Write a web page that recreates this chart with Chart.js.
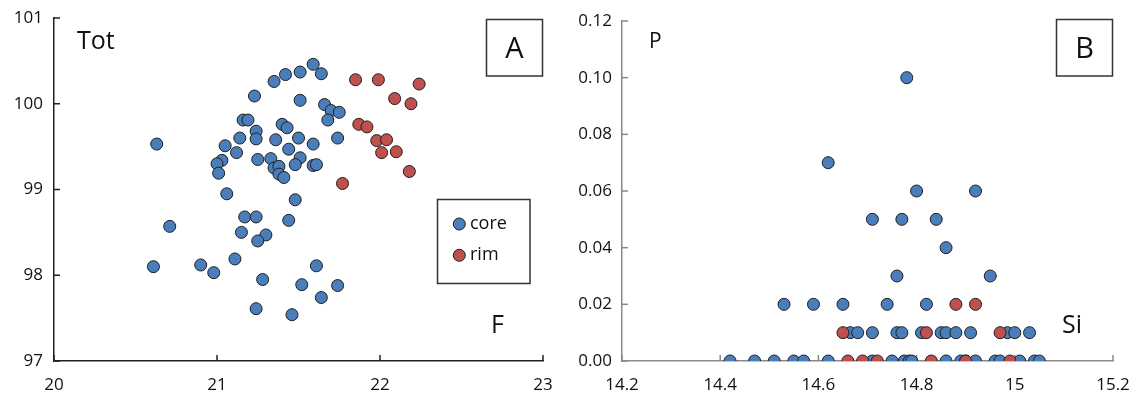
<!DOCTYPE html>
<html><head><meta charset="utf-8">
<script src="https://cdn.jsdelivr.net/npm/chart.js@4/dist/chart.umd.min.js"></script>
<style>
html,body{margin:0;padding:0;background:#fff;}
#wrap{position:relative;width:1144px;height:405px;overflow:hidden;}
#a{position:absolute;left:0;top:0;}
#b{position:absolute;left:560px;top:0;}
</style></head><body>
<div id="wrap"><canvas id="a" width="560" height="405"></canvas><canvas id="b" width="584" height="405"></canvas></div>
<script>
// ---- Panel A: Tot vs F ----
const coreF = [20.63,20.61,20.71,20.90,20.98,21.06,21.17,21.24,21.15,21.30,21.25,21.11,21.28,21.24,21.46,21.48,21.44,21.61,21.52,21.74,21.64,21.23,21.35,21.42,21.51,21.59,21.64,21.51,21.66,21.70,21.75,21.68,21.16,21.19,21.24,21.24,21.40,21.43,21.14,21.05,21.12,21.36,21.50,21.59,21.74,21.03,21.00,21.01,21.25,21.33,21.44,21.51,21.48,21.59,21.61,21.35,21.38,21.38,21.41];
const coreTot = [99.53,98.10,98.57,98.12,98.03,98.95,98.68,98.68,98.50,98.47,98.40,98.19,97.95,97.61,97.54,98.88,98.64,98.11,97.89,97.88,97.74,100.09,100.26,100.34,100.37,100.46,100.35,100.04,99.99,99.92,99.90,99.81,99.81,99.81,99.68,99.59,99.76,99.72,99.60,99.51,99.43,99.58,99.60,99.53,99.60,99.34,99.30,99.19,99.35,99.36,99.47,99.37,99.29,99.28,99.29,99.25,99.27,99.18,99.14];
const rimF = [21.85,21.99,22.24,22.09,22.19,21.87,21.92,21.98,22.04,22.01,22.10,22.18,21.77];
const rimTot = [100.28,100.28,100.23,100.06,100.00,99.76,99.73,99.57,99.58,99.43,99.44,99.21,99.07];
const xTicksA = [20,21,22,23];
const xLabelsA = ['20','21','22','23'];
const yTicksA = [97,98,99,100,101];
const yLabelsA = ['97','98','99','100','101'];

// ---- Panel B: P vs Si ----
const coreSi = [14.78,14.62,14.80,14.92,14.71,14.77,14.84,14.86,14.76,14.95,
  14.53,14.59,14.65,14.74,14.82,
  14.665,14.68,14.71,14.76,14.77,14.81,14.85,14.86,14.88,14.91,14.985,15.00,15.03,
  14.42,14.47,14.51,14.55,14.57,14.62,14.71,14.75,14.775,14.785,14.79,14.86,14.89,14.90,14.92,14.96,14.97,15.01,15.04,15.05];
const coreP = [0.10,0.07,0.06,0.06,0.05,0.05,0.05,0.04,0.03,0.03,
  0.02,0.02,0.02,0.02,0.02,
  0.01,0.01,0.01,0.01,0.01,0.01,0.01,0.01,0.01,0.01,0.01,0.01,0.01,
  0,0,0,0,0,0,0,0,0,0,0,0,0,0,0,0,0,0,0,0];
const rimSi = [14.88,14.92,14.65,14.82,14.97,14.66,14.69,14.72,14.83,14.90,14.99];
const rimP = [0.02,0.02,0.01,0.01,0.01,0,0,0,0,0,0];
const xTicksB = [14.2,14.4,14.6,14.8,15.0,15.2];
const xLabelsB = ['14.2','14.4','14.6','14.8','15','15.2'];
const yTicksB = [0,0.02,0.04,0.06,0.08,0.10,0.12];
const yLabelsB = ['0.00','0.02','0.04','0.06','0.08','0.10','0.12'];

const seriesNames = ['core','rim'];
const BLUE = '#4a7ebb', RED = '#c0504d', EDGE = '#1e1e1e';
const FONT = "'Open Sans', 'DejaVu Sans', sans-serif";

function pts(xs, ys){ return xs.map((x,i)=>({x:x, y:ys[i]})); }

function makeScale(min, max, values, labels, axisColor, pad, fix){
  return {
    type:'linear', min:min, max:max,
    afterBuildTicks: s => { s.ticks = values.map(v=>({value:v})); },
    afterFit: s => { fix(s); s.paddingLeft = 0; s.paddingRight = 0; s.paddingTop = 0; s.paddingBottom = 0; },
    grid:{display:false, drawTicks:false},
    border:{display:true, color:axisColor, width:1.5},
    ticks:{
      padding:pad, color:'#111', font:{family:FONT, size:17},
      callback:(v,i)=>labels[i]
    }
  };
}

// inward tick marks + annotations
const decor = {
  id:'decor',
  beforeDatasetsDraw(chart, args, o){
    const ctx = chart.ctx, a = chart.chartArea;
    ctx.save();
    ctx.strokeStyle = o.axisColor; ctx.lineWidth = 1.5;
    const xs = chart.scales.x, ys = chart.scales.y;
    xs.ticks.forEach(t=>{ const p = xs.getPixelForValue(t.value);
      ctx.beginPath(); ctx.moveTo(p, a.bottom); ctx.lineTo(p, a.bottom-6); ctx.stroke(); });
    ys.ticks.forEach(t=>{ const p = ys.getPixelForValue(t.value);
      ctx.beginPath(); ctx.moveTo(a.left, p); ctx.lineTo(a.left+6, p); ctx.stroke(); });
    ctx.restore();
  },
  afterDraw(chart, args, o){
    const ctx = chart.ctx, a = chart.chartArea;
    ctx.save();
    ctx.fillStyle = '#111';
    ctx.textBaseline = 'alphabetic';
    ctx.textAlign = 'left';
    ctx.font = o.ySize + 'px ' + FONT;
    ctx.fillText(o.yName, a.left + o.yNameDx, a.top + o.yNameDy);
    ctx.font = '25px ' + FONT;
    ctx.fillText(o.xName, a.right + o.xNameDx, a.bottom - 28);
    // panel letter box
    ctx.strokeStyle = '#333'; ctx.lineWidth = 1.5;
    const bx = a.right - 56.5, by = 19.5, bw = 56, bh = 56.5;
    ctx.fillStyle = '#fff'; ctx.fillRect(bx,by,bw,bh);
    ctx.strokeRect(bx,by,bw,bh);
    ctx.fillStyle = '#111';
    ctx.font = '29px ' + FONT; ctx.textAlign='center';
    ctx.fillText(o.letter, bx+bw/2, by+38);
    // legend
    if (o.legend){
      ctx.strokeStyle = '#333'; ctx.lineWidth = 1.5;
      ctx.strokeRect(437.5, 199.5, 92.5, 84);
      ctx.textAlign='left'; ctx.textBaseline='middle';
      ctx.font = '18px ' + FONT;
      chart.data.datasets.slice().sort((p,q)=>seriesNames.indexOf(p.label)-seriesNames.indexOf(q.label)).forEach((d,i)=>{
        const cy = 224 + i*31.3;
        ctx.beginPath(); ctx.arc(459.3, cy, 6, 0, Math.PI*2);
        ctx.fillStyle = d.backgroundColor; ctx.fill();
        ctx.strokeStyle = EDGE; ctx.lineWidth = 1; ctx.stroke();
        ctx.fillStyle = '#111'; ctx.fillText(d.label, 470, cy);
      });
    }
    ctx.restore();
  }
};

function ds(label, data, color, order){
  return {label:label, data:data, backgroundColor:color, borderColor:EDGE, borderWidth:1,
    pointRadius:6, pointHoverRadius:6, order:order};
}

new Chart(document.getElementById('a'), {
  type:'scatter',
  data:{datasets:[ds(seriesNames[0], pts(coreF,coreTot), BLUE, 1), ds(seriesNames[1], pts(rimF,rimTot), RED, 0)]},
  options:{
    responsive:false, animation:false, events:[],
    layout:{padding:{left:0, top:18, right:17, bottom:0}},
    plugins:{legend:{display:false}, tooltip:{enabled:false},
      decor:{axisColor:'#231f20', yName:'Tot', ySize:25, yNameDx:23, yNameDy:31, xName:'F', xNameDx:-52, letter:'A', legend:true}},
    scales:{
      x: makeScale(20, 23, xTicksA, xLabelsA, '#231f20', 14, s=>{s.height=44;}),
      y: makeScale(97, 101, yTicksA, yLabelsA, '#231f20', 11, s=>{s.width=54;})
    }
  },
  plugins:[decor]
});

new Chart(document.getElementById('b'), {
  type:'scatter',
  data:{datasets:[ds(seriesNames[0], pts(coreSi,coreP), BLUE, 1), ds(seriesNames[1], pts(rimSi,rimP), RED, 0)]},
  options:{
    responsive:false, animation:false, events:[],
    layout:{padding:{left:0, top:21, right:31, bottom:0}},
    plugins:{legend:{display:false}, tooltip:{enabled:false},
      decor:{axisColor:'#8a8a8a', yName:'P', ySize:21, yNameDx:27, yNameDy:27, xName:'Si', xNameDx:-51, letter:'B', legend:false}},
    scales:{
      x: makeScale(14.2, 15.2, xTicksB, xLabelsB, '#8a8a8a', 14, s=>{s.height=44;}),
      y: makeScale(0, 0.12, yTicksB, yLabelsB, '#8a8a8a', 10, s=>{s.width=62;})
    }
  },
  plugins:[decor]
});
</script>
</body></html>
